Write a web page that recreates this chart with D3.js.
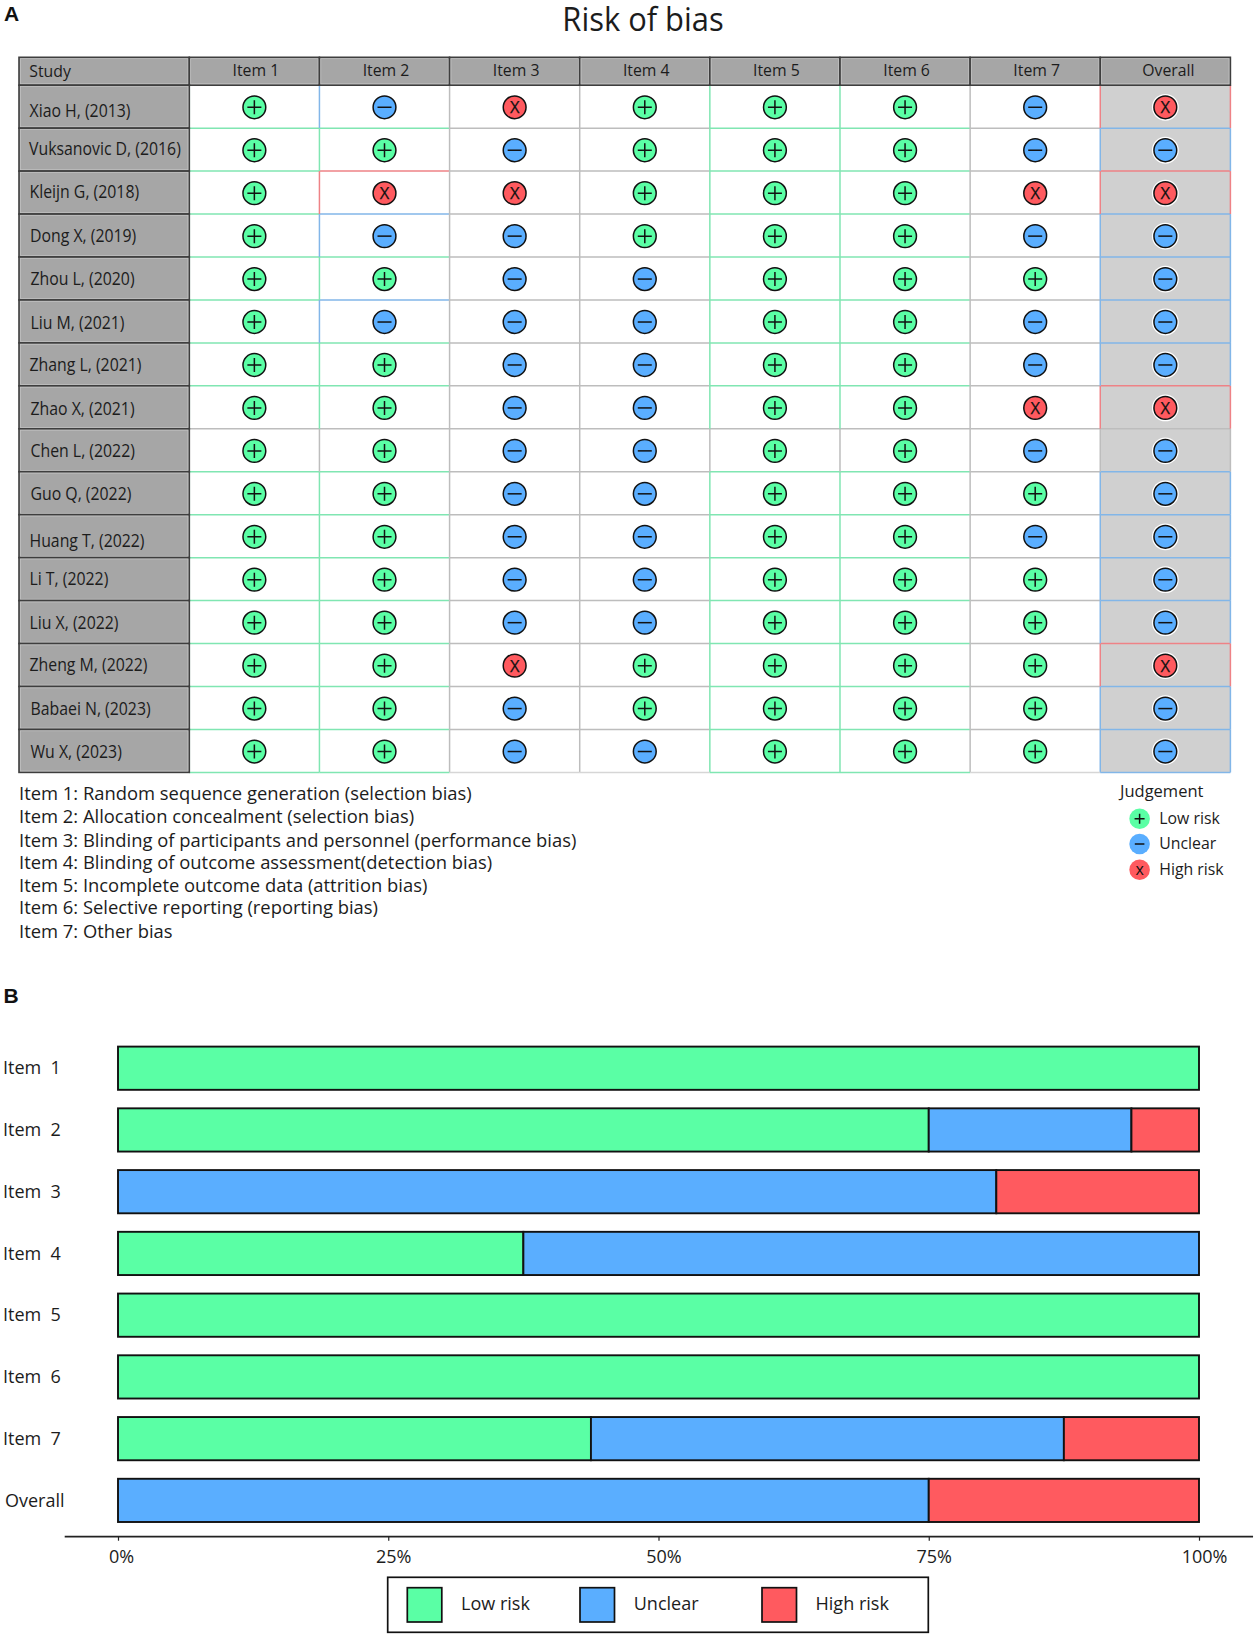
<!DOCTYPE html>
<html>
<head>
<meta charset="utf-8">
<script src="https://cdn.jsdelivr.net/npm/d3@7"></script>
<style>
html,body{margin:0;padding:0;background:#fff}
svg{display:block}
text{font-family:"Open Sans",sans-serif;fill:#1c1c1c;white-space:pre}
</style>
</head>
<body>
<div id="chart"></div>
<script>
// ---------- data ----------
const studies = ["Xiao H, (2013)","Vuksanovic D, (2016)","Kleijn G, (2018)","Dong X, (2019)","Zhou L, (2020)","Liu M, (2021)","Zhang L, (2021)","Zhao X, (2021)","Chen L, (2022)","Guo Q, (2022)","Huang T, (2022)","Li T, (2022)","Liu X, (2022)","Zheng M, (2022)","Babaei N, (2023)","Wu X, (2023)"];
const columns = ["Item 1","Item 2","Item 3","Item 4","Item 5","Item 6","Item 7","Overall"];
// L = low risk, U = unclear, H = high risk (one letter per study)
const item1   = "LLLLLLLLLLLLLLLL".split("");
const item2   = "ULHULULLLLLLLLLL".split("");
const item3   = "HUHUUUUUUUUUUHUU".split("");
const item4   = "LLLLUUUUUUUUULLU".split("");
const item5   = "LLLLLLLLLLLLLLLL".split("");
const item6   = "LLLLLLLLLLLLLLLL".split("");
const item7   = "UUHULUUHULULLLLL".split("");
const overall = "HUHUUUUHUUUUUHUU".split("");
const judgements = [item1,item2,item3,item4,item5,item6,item7,overall];

const itemNotes = ["Item 1: Random sequence generation (selection bias)","Item 2: Allocation concealment (selection bias)","Item 3: Blinding of participants and personnel (performance bias)","Item 4: Blinding of outcome assessment(detection bias)","Item 5: Incomplete outcome data (attrition bias)","Item 6: Selective reporting (reporting bias)","Item 7: Other bias"];
const riskKeys = ["L","U","H"];
const riskNames = ["Low risk","Unclear","High risk"];

const barLabels = ["Item  1","Item  2","Item  3","Item  4","Item  5","Item  6","Item  7","Overall"];
const lowPct     = [100,75,0,37.5,100,100,43.75,0];
const unclearPct = [0,18.75,81.25,62.5,0,0,43.75,75];
const highPct    = [0,6.25,18.75,0,0,0,12.5,25];
const pctTicks   = [0,25,50,75,100];

// ---------- layout / style ----------
const W = 1257, H = 1637;
const fillOf  = {L:"#5AFFA5",U:"#5AAEFF",H:"#FF5A5F"};
const edgeOf  = {L:"#80E6B2",U:"#82B6E8",H:"#EE8286"};
const GREY = "#BDBDBD";
const greyCols = new Set(["Item 3","Item 4","Item 7"]);
const greyRow = "Chen L, (2022)";
const labelNudge = [5,0,0,1.3,1.4,2.4,1.3,2,1.3,1.2,5.5,0.4,1.2,0.8,1.5,1.5];
const labelIndent = [29.5,29,29.5,30,30.5,30.5,29.5,30.5,30.5,30.5,29.5,29.5,29.5,29.5,30.5,30.5];

const svg = d3.select("#chart").append("svg").attr("width",W).attr("height",H).attr("viewBox",[0,0,W,H]);

// text helper: Myriad-like narrow set
function label(g,str,x,y,size,sx,anchor){
  return g.append("text").text(str)
    .attr("transform",`translate(${x},${y}) scale(${sx},1)`)
    .attr("font-size",size).attr("text-anchor",anchor||"start");
}

// panel letters
svg.append("text").text("A").attr("x",4).attr("y",20.7).attr("font-size",21).attr("font-weight",700).style("font-family","'Liberation Sans',sans-serif").style("fill","#111");
svg.append("text").text("B").attr("x",3.5).attr("y",1002.7).attr("font-size",21).attr("font-weight",700).style("font-family","'Liberation Sans',sans-serif").style("fill","#111");

label(svg,"Risk of bias",643,30.5,33,.936,"middle");

// ---------- Panel A ----------
const xCol = d3.scaleBand().domain(columns).range([189.3,1230.4]);
const yRow = d3.scaleBand().domain(studies).range([85.2,772.4]);
const HEAD_TOP = 57.3, STUDY_LEFT = 19;

const headFill="#A6A6A6", headLine="#3E3E3E", headInner="#C4C4C4";
function headRect(g,x,y,w,h){
  g.append("rect").attr("x",x).attr("y",y).attr("width",w).attr("height",h).attr("fill",headFill).attr("stroke",headLine).attr("stroke-width",1.6);
  g.append("rect").attr("x",x+1.4).attr("y",y+1.4).attr("width",w-2.8).attr("height",h-2.8).attr("fill","none").attr("stroke",headInner).attr("stroke-width",.7);
}

const gridG = svg.append("g");
// Overall column background
gridG.append("rect").attr("x",xCol("Overall")).attr("y",yRow.range()[0]).attr("width",xCol.bandwidth()).attr("height",yRow.range()[1]-yRow.range()[0]).attr("fill","#D0D0D0");

const cells = [];
columns.forEach((c,j)=>studies.forEach((s,i)=>cells.push({col:c,study:s,j,i,v:judgements[j][i]})));
const edgeColor = d => (d.study===greyRow||greyCols.has(d.col)) ? GREY : edgeOf[d.v];
// grey first, coloured on top
const ordered = cells.slice().sort((a,b)=>(edgeColor(a)===GREY?0:1)-(edgeColor(b)===GREY?0:1));
const lw = 1.5;
gridG.selectAll("line.top").data(ordered).join("line").attr("class","top")
  .attr("x1",d=>xCol(d.col)).attr("x2",d=>xCol(d.col)+xCol.bandwidth())
  .attr("y1",d=>yRow(d.study)).attr("y2",d=>yRow(d.study))
  .attr("stroke",edgeColor).attr("stroke-width",lw);
gridG.selectAll("line.left").data(ordered).join("line").attr("class","left")
  .attr("x1",d=>xCol(d.col)).attr("x2",d=>xCol(d.col))
  .attr("y1",d=>yRow(d.study)).attr("y2",d=>yRow(d.study)+yRow.bandwidth())
  .attr("stroke",edgeColor).attr("stroke-width",lw);
// table bottom edge
const lastStudy = studies[studies.length-1];
gridG.selectAll("line.bottom").data(cells.filter(d=>d.study===lastStudy)).join("line").attr("class","bottom")
  .attr("x1",d=>xCol(d.col)).attr("x2",d=>xCol(d.col)+xCol.bandwidth())
  .attr("y1",yRow.range()[1]).attr("y2",yRow.range()[1])
  .attr("stroke",d=>greyCols.has(d.col)?"#D6D6D6":edgeOf[d.v]).attr("stroke-width",lw);
// right edge of Overall
gridG.selectAll("line.right").data(cells.filter(d=>d.col==="Overall")).join("line").attr("class","right")
  .attr("x1",xCol.range()[1]).attr("x2",xCol.range()[1])
  .attr("y1",d=>yRow(d.study)).attr("y2",d=>yRow(d.study)+yRow.bandwidth())
  .attr("stroke",edgeColor).attr("stroke-width",lw);

// header and study column
const headG = svg.append("g");
headRect(headG,STUDY_LEFT,HEAD_TOP,xCol.range()[0]-STUDY_LEFT,yRow.range()[0]-HEAD_TOP);
columns.forEach(c=>headRect(headG,xCol(c),HEAD_TOP,xCol.bandwidth(),yRow.range()[0]-HEAD_TOP));
studies.forEach(s=>headRect(headG,STUDY_LEFT,yRow(s),xCol.range()[0]-STUDY_LEFT,yRow.bandwidth()));
label(headG,"Study",29.3,76.6,17,.93);
columns.forEach(c=>label(headG,c,xCol(c)+xCol.bandwidth()/2+(c==="Overall"?3:1.5),76.4,17,.93,"middle"));
studies.forEach((s,i)=>label(headG,s,labelIndent[i],yRow(s)+yRow.bandwidth()/2+labelNudge[i]+5.4,18,.88));

// symbols
function glyph(g,v,size){
  if(v==="L"){
    g.append("path").attr("d",`M${-size},0H${size}M0,${-size}V${size}`).attr("stroke","#111").attr("stroke-width",1.5).attr("fill","none");
  } else if(v==="U"){
    g.append("path").attr("d",`M${-size},0H${size}`).attr("stroke","#111").attr("stroke-width",1.5).attr("fill","none");
  }
}
const symG = svg.append("g");
symG.selectAll("g.sym").data(cells).join("g").attr("class","sym")
  .attr("transform",d=>`translate(${xCol(d.col)+xCol.bandwidth()/2},${yRow(d.study)+yRow.bandwidth()/2+.6})`)
  .each(function(d){
    const g=d3.select(this);
    if(d.col==="Overall") g.append("circle").attr("r",13.4).attr("fill","#fff");
    g.append("circle").attr("r",11.4).attr("fill",fillOf[d.v]).attr("stroke","#111").attr("stroke-width",1.5);
    glyph(g,d.v,7);
    if(d.v==="H") g.append("text").text("X").attr("text-anchor","middle").attr("y",6).attr("font-size",16.5).style("fill","#111").style("stroke","#111").style("stroke-width",.25);
  });

// item notes
const noteBase = [800,822.8,846.7,868.7,891.7,914.3,938.3];
itemNotes.forEach((t,i)=>label(svg,t,19,noteBase[i],19,.968));

// judgement legend
const yLeg = d3.scaleOrdinal().domain(riskKeys).range([818.7,844,869.7]);
label(svg,"Judgement",1120,797.3,16.5,1);
riskKeys.forEach((k,i)=>{
  const g=svg.append("g").attr("transform",`translate(1139.6,${yLeg(k)})`);
  g.append("circle").attr("r",10.3).attr("fill",fillOf[k]);
  glyph(g,k,k==="L"?5:4.8);
  if(k==="H") g.append("text").text("x").attr("text-anchor","middle").attr("y",5.2).attr("font-size",16).style("fill","#111");
  label(svg,riskNames[i],1159.3,yLeg(k)+5,16.5,.96);
});

// ---------- Panel B ----------
const xPct = d3.scaleLinear().domain([0,100]).range([118,1199]);
const yBar = d3.scaleBand().domain(barLabels).range([1046.6,1522]).paddingInner(.3).paddingOuter(0);

const stackData = barLabels.map((b,i)=>({label:b,L:lowPct[i],U:unclearPct[i],H:highPct[i]}));
const series = d3.stack().keys(riskKeys)(stackData);
const barG = svg.append("g");
barG.selectAll("g").data(series).join("g").attr("fill",s=>fillOf[s.key])
  .selectAll("rect").data(s=>s.filter(d=>d[1]>d[0])).join("rect")
  .attr("x",d=>xPct(d[0])).attr("y",d=>yBar(d.data.label))
  .attr("width",d=>xPct(d[1])-xPct(d[0])).attr("height",yBar.bandwidth())
  .attr("stroke","#111").attr("stroke-width",1.9);
barLabels.forEach(b=>label(svg,b,b==="Overall"?5:3,yBar(b)+yBar.bandwidth()/2+6.2,18,1));

// axis
const axisY = 1536.7;
const axis = d3.axisBottom(xPct).tickValues(pctTicks).tickFormat(d=>d+"%").tickSize(4).tickSizeOuter(0);
const axG = svg.append("g").attr("transform",`translate(0,${axisY})`).call(axis);
axG.select(".domain").remove();
axG.selectAll(".tick line").attr("stroke","#222").attr("stroke-width",1.2);
axG.selectAll(".tick text").attr("y",0).attr("dy",0)
  .attr("transform",d=>`translate(${d===0?3:5},26.3)`).attr("font-size",18).style("font-family","'Open Sans',sans-serif");
svg.append("line").attr("x1",xPct(-4.93)).attr("x2",xPct(105)).attr("y1",axisY).attr("y2",axisY).attr("stroke","#222").attr("stroke-width",1.7);

// bar legend
svg.append("rect").attr("x",387.7).attr("y",1577.3).attr("width",540.6).attr("height",55).attr("fill","#fff").attr("stroke","#111").attr("stroke-width",1.7);
const swatchX = d3.scaleOrdinal().domain(riskKeys).range([407.3,580,762]);
const swatchText = d3.scaleOrdinal().domain(riskKeys).range([461,633.7,815.5]);
riskKeys.forEach((k,i)=>{
  svg.append("rect").attr("x",swatchX(k)).attr("y",1587.7).attr("width",34.5).attr("height",34.3).attr("fill",fillOf[k]).attr("stroke","#111").attr("stroke-width",1.7);
  label(svg,riskNames[i],swatchText(k),1610,19,.95);
});
</script>
</body>
</html>
